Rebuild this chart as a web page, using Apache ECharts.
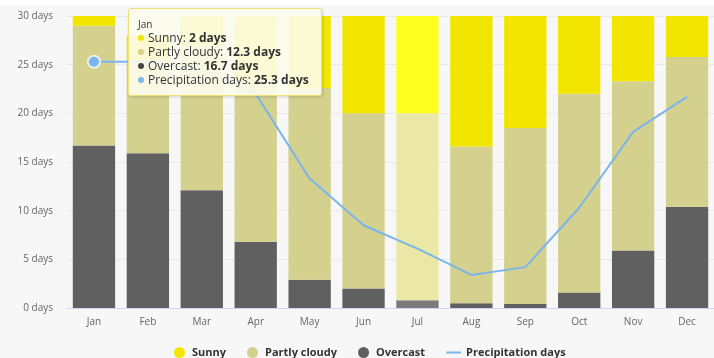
<!DOCTYPE html>
<html>
<head>
<meta charset="utf-8">
<title>Sunshine and cloud cover by month</title>
<script src="https://cdn.jsdelivr.net/npm/echarts@6/dist/echarts.min.js"></script>
<style>
  html, body { margin: 0; padding: 0; background: #f7f7f7; }
  #chart { width: 714px; height: 358px; }
</style>
</head>
<body>
<div id="chart"></div>
<script>
// Monthly sky conditions (days) and number of precipitation days
const months = ['Jan', 'Feb', 'Mar', 'Apr', 'May', 'Jun', 'Jul', 'Aug', 'Sep', 'Oct', 'Nov', 'Dec'];
const overcast = [16.7, 15.9, 12.1, 6.8, 2.9, 2.0, 0.8, 0.5, 0.4, 1.6, 5.9, 10.4];
const partlyCloudy = [12.3, 9.6, 14.9, 16.7, 19.7, 18.0, 19.2, 16.1, 18.1, 20.4, 17.4, 15.4];
const sunny = [2, 2.5, 4, 6.5, 8.4, 10, 11, 14.4, 11.5, 9, 6.7, 5.2];
const precipitationDays = [25.3, 25.3, 24.5, 22.0, 13.3, 8.5, 6.1, 3.4, 4.2, 10.3, 18.1, 21.7];
const yTicks = [0, 5, 10, 15, 20, 25, 30];

const FONT = '"Open Sans", "DejaVu Sans", sans-serif';
const COLORS = {
  sunny: '#f2e600',
  partly: '#d4d08e',
  overcast: '#606060',
  precip: '#7cb5ec'
};
// July column drawn in its brighter (hovered) tones
const HOVER = { sunny: '#ffff1f', partly: '#ebe7a6', overcast: '#7a7a7a' };
const hoverIndex = 6;

function withHover(values, key) {
  return values.map((v, i) => i === hoverIndex
    ? { value: v, itemStyle: { color: HOVER[key] } }
    : v);
}

// Precipitation line, with the January point marked
const precipData = precipitationDays.map((v, i) => i === 0
  ? { value: v, symbol: 'circle', symbolSize: 11,
      itemStyle: { color: COLORS.precip, borderColor: 'rgba(255,255,255,0.75)', borderWidth: 2 } }
  : v);

function dot(color) {
  return '<span style="display:inline-block;width:6px;height:6px;border-radius:3px;background:' +
    color + ';margin:0 4px 1px 0;vertical-align:middle"></span>';
}

function tooltipHtml(i) {
  const rows = [
    ['Sunny', COLORS.sunny, sunny[i]],
    ['Partly cloudy', COLORS.partly, partlyCloudy[i]],
    ['Overcast', '#444', overcast[i]],
    ['Precipitation days', COLORS.precip, precipitationDays[i]]
  ];
  let html = '<div style="font-size:10px;line-height:14px">' + months[i] + '</div>';
  rows.forEach(r => {
    html += '<div style="font-size:12px;line-height:14px">' + dot(r[1]) + r[0] +
      ': <b>' + r[2] + ' days</b></div>';
  });
  return html;
}

const chart = echarts.init(document.getElementById('chart'), null, { renderer: 'canvas' });

chart.setOption({
  animation: false,
  backgroundColor: '#f7f7f7',
  textStyle: { fontFamily: FONT },
  graphic: [{
    type: 'rect', left: 0, top: 0, z: -1,
    shape: { width: 714, height: 5 },
    style: { fill: '#ffffff' }
  }],
  grid: { left: 67, right: -10, top: 16, bottom: 50 },
  tooltip: {
    trigger: 'axis',
    triggerOn: 'none',
    alwaysShowContent: true,
    transitionDuration: 0,
    axisPointer: { type: 'none' },
    position: [128, 8],
    backgroundColor: 'rgba(252,252,236,0.9)',
    borderColor: '#ece277',
    borderWidth: 1,
    padding: [8, 12, 8, 9],
    textStyle: { color: '#333', fontFamily: FONT },
    extraCssText: 'border-radius:3px;box-shadow:1px 1px 3px rgba(0,0,0,0.15);',
    formatter: function (params) {
      return tooltipHtml(params[0].dataIndex);
    }
  },
  legend: {
    data: [
      { name: 'Sunny', icon: 'circle' },
      { name: 'Partly cloudy', icon: 'circle' },
      { name: 'Overcast', icon: 'circle' },
      { name: 'Precipitation days', icon: 'path://M0,0L15,0L15,2L0,2Z' }
    ],
    left: 169,
    top: 342,
    itemGap: 21,
    itemWidth: 15,
    itemHeight: 11,
    textStyle: { fontSize: 11, fontWeight: 'bold', color: '#333', fontFamily: FONT }
  },
  xAxis: {
    type: 'category',
    data: months,
    axisLine: { lineStyle: { color: '#ccd6eb' } },
    axisTick: { show: false },
    axisLabel: { color: '#666', fontSize: 10, margin: 9 }
  },
  yAxis: {
    type: 'value',
    min: yTicks[0],
    max: yTicks[yTicks.length - 1],
    interval: 5,
    axisLabel: { color: '#666', fontSize: 10, margin: 14, formatter: '{value} days' },
    splitLine: { lineStyle: { color: '#e9e9e9' } },
    axisLine: { show: false },
    axisTick: { show: false }
  },
  series: [
    {
      name: 'Overcast', type: 'bar', stack: 'sky', barCategoryGap: '21.5%',
      emphasis: { disabled: true },
      itemStyle: { color: COLORS.overcast },
      data: withHover(overcast, 'overcast')
    },
    {
      name: 'Partly cloudy', type: 'bar', stack: 'sky',
      emphasis: { disabled: true },
      itemStyle: { color: COLORS.partly },
      data: withHover(partlyCloudy, 'partly')
    },
    {
      name: 'Sunny', type: 'bar', stack: 'sky',
      emphasis: { disabled: true },
      itemStyle: { color: COLORS.sunny },
      data: withHover(sunny, 'sunny')
    },
    {
      name: 'Precipitation days', type: 'line',
      symbol: 'none', showSymbol: true,
      emphasis: { disabled: true },
      lineStyle: { color: COLORS.precip, width: 2 },
      itemStyle: { color: COLORS.precip },
      z: 5,
      data: precipData
    }
  ]
});

chart.dispatchAction({ type: 'showTip', seriesIndex: 0, dataIndex: 0 });
</script>
</body>
</html>
